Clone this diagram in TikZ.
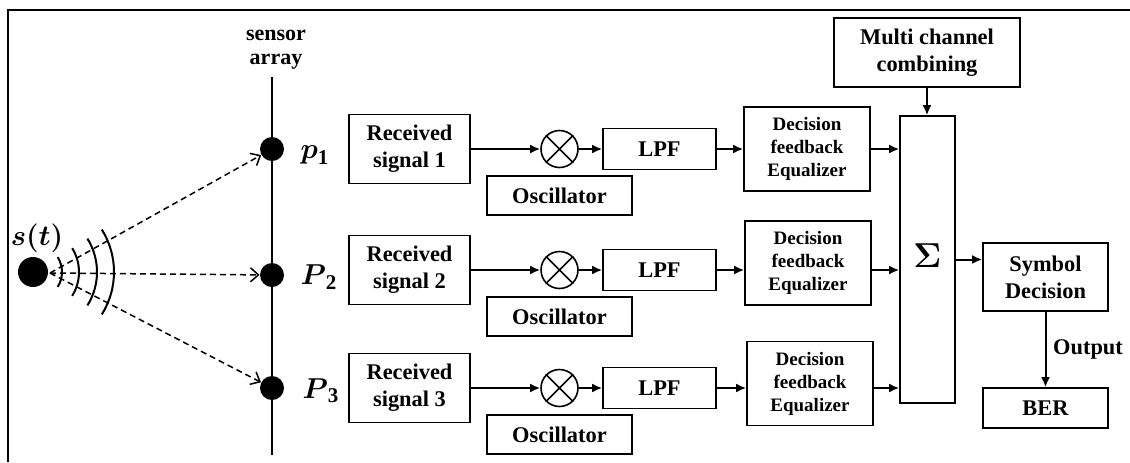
\documentclass[tikz,border=0pt]{standalone}
\usepackage{amsmath,amssymb}
\usepackage{fontspec}
\setmainfont{Liberation Serif}
\usepackage{tikz}
\usetikzlibrary{arrows.meta}
\tikzset{
  frameline/.style={draw=black,line width=1pt},
  blockbox/.style={draw,line width=0.8pt,align=center,inner sep=0pt,
    font=\fontsize{11.2}{13.5}\selectfont\bfseries},
  rxsize/.style={minimum width=60.5pt,minimum height=34.5pt},
  lpfsize/.style={minimum width=56.5pt,minimum height=20.5pt},
  oscsize/.style={minimum width=72.5pt,minimum height=19.5pt},
  dfebox/.style={blockbox,minimum width=63pt,minimum height=42pt,
    font=\fontsize{9.5}{11.5}\selectfont\bfseries},
  mixer/.style={draw,circle,line width=0.8pt,minimum size=18.5pt,inner sep=0pt},
  mixline/.style={line width=0.8pt},
  flow/.style={line width=1pt,-{Latex[length=5pt,width=4.5pt]}},
  dashray/.style={line width=0.75pt,dash pattern=on 3pt off 2pt,
    -{Straight Barb[length=4pt,width=7pt]}},
  wavearc/.style={line width=1pt},
  arrayline/.style={line width=1pt},
  sensdot/.style={circle,fill=black,minimum size=12pt,inner sep=0pt},
  srcdot/.style={circle,fill=black,minimum size=15pt,inner sep=0pt},
  mathlbl/.style={font=\fontsize{15}{17}\selectfont},
}
% one receive branch: input box, mixer, oscillator, LPF, DFE
\newcommand{\rxrow}[4]{%
  \node[blockbox,rxsize] (rx#1) at (409.5,#2) {Received\\signal #1};
  \node[mixer] (mx#1) at (559.5,#2) {};
  \draw[mixline] (mx#1.45) -- (mx#1.225) (mx#1.135) -- (mx#1.315);
  \node[blockbox,lpfsize] (lpf#1) at (659.5,#2) {LPF};
  \node[blockbox,oscsize] (osc#1) at (559.5,{#2+46.5}) {Oscillator};
  \node[dfebox] (dfe#1) at (#3,#4) {Decision\\feedback\\Equalizer};
  \draw[flow] (rx#1) -- (mx#1);
  \draw[flow] (mx#1) -- (lpf#1);
  \draw[flow] (lpf#1) -- (lpf#1 -| dfe#1.west);
  \draw[flow] (dfe#1.east |- lpf#1) -- (lpf#1 -| sum.west);
}

\begin{document}
\begin{tikzpicture}[x=0.5pt,y=-0.5pt]
  \useasboundingbox (0,0) rectangle (1130,462);
  \draw[frameline] (8,462) -- (8,10) -- (1130,10);

  % source and wavefronts
  \node[srcdot] (src) at (33,272) {};
  \node[font=\fontsize{13.5}{15}\selectfont] (slbl) at (37,238) {$\boldsymbol{s(t)}$};
  \coordinate (srcc) at (34,272);
  \coordinate (emit) at (50,273);
  \foreach \r in {28,45,63,80}
    \draw[wavearc] ([shift={(-32:\r)}]srcc) arc (-32:32:\r);

  % sensor array
  \coordinate (atop) at (272,77);
  \coordinate (abot) at (272,455);
  \draw[arrayline] (atop) -- (abot);
  \node[font=\fontsize{11}{12}\selectfont\bfseries,align=center] (arr) at (276,50) {sensor\\array};
  \node[sensdot] (d1) at (272,149) {};
  \node[sensdot] (d2) at (272,275) {};
  \node[sensdot] (d3) at (272,388) {};
  \node[mathlbl] (l1) at (315,155) {$\boldsymbol{p}_{\mathbf{1}}$};
  \node[mathlbl] (l2) at (319,277) {$\boldsymbol{P}_{\mathbf{2}}$};
  \node[mathlbl] (l3) at (321,391) {$\boldsymbol{P}_{\mathbf{3}}$};
  \foreach \d in {d1,d2,d3}
    \draw[dashray] (emit) -- (\d);

  % combiner and decision
  \node[blockbox,minimum width=27.5pt,minimum height=143.5pt,
    font=\fontsize{17}{17}\selectfont] (sum) at (927.5,259.5) {\raisebox{3.75pt}{$\boldsymbol{\Sigma}$}};
  \node[blockbox,minimum width=93pt,minimum height=34.5pt] (comb) at (927,52.5) {Multi channel\\combining};
  \node[blockbox,minimum width=62.5pt,minimum height=34pt] (sym) at (1045.5,277) {Symbol\\Decision};
  \node[blockbox,minimum width=62.5pt,minimum height=20pt] (ber) at (1045.5,408) {BER};
  \draw[flow] (comb) -- (comb |- sum.north);
  \draw[flow] (sum.east) -- (sum.east -| sym.west);
  \draw[flow] (sym) -- node[right,font=\fontsize{11.2}{13}\selectfont\bfseries] {Output} (ber);

  \rxrow{1}{149}{807}{149}
  \rxrow{2}{270}{808}{263}
  \rxrow{3}{388}{810}{383.5}
\end{tikzpicture}
\end{document}
